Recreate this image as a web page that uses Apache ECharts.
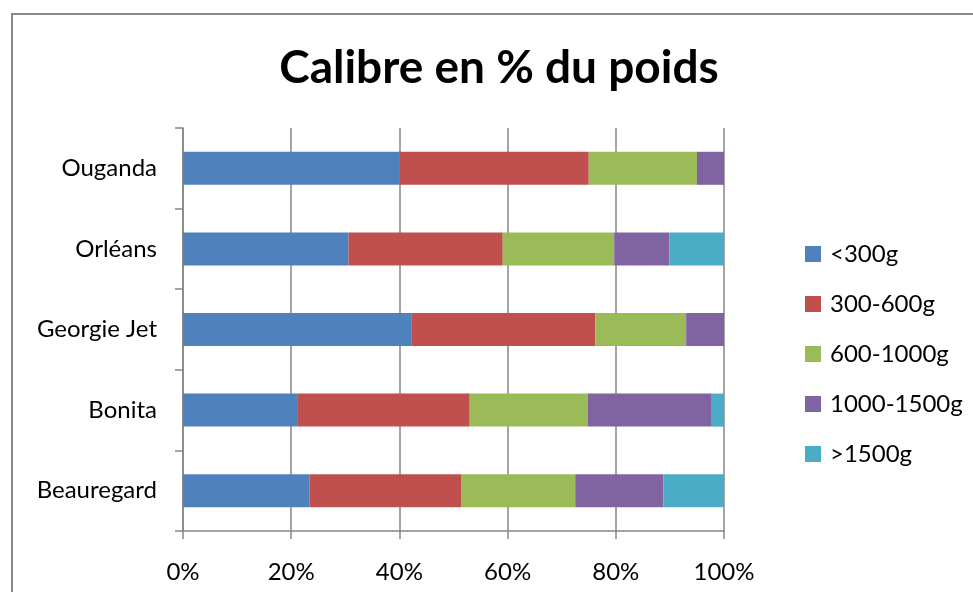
<!DOCTYPE html>
<html>
<head>
    <meta charset="utf-8">
    <title>Calibre en % du poids</title>
    <script src="https://cdn.jsdelivr.net/npm/echarts@6/dist/echarts.min.js"></script>
    <style>
        html, body { margin: 0; padding: 0; background: #fff; }
        #main { width: 973px; height: 592px; }
    </style>
</head>
<body>
<div id="main"></div>
<script>
    // varieties, bottom to top (ECharts puts the first category at the bottom)
    var varietes = ['Beauregard', 'Bonita', 'Georgie Jet', 'Orléans', 'Ouganda'];
    var calibres = ['<300g', '300-600g', '600-1000g', '1000-1500g', '>1500g'];
    var couleurs = ['#4F81BD', '#C0504D', '#9BBB59', '#8064A2', '#4BACC6'];

    // % du poids per size class, one value per variety
    var moins300 = [23.4, 21.1, 42.3, 30.6, 40.0];
    var de300a600 = [28.1, 31.9, 33.9, 28.5, 35.0];
    var de600a1000 = [21.0, 21.8, 16.8, 20.6, 20.0];
    var de1000a1500 = [16.3, 22.8, 7.0, 10.2, 5.0];
    var plus1500 = [11.2, 2.4, 0, 10.1, 0];

    var valeurs = [moins300, de300a600, de600a1000, de1000a1500, plus1500];
    var police = 'Lato, "DejaVu Sans", sans-serif';

    var myChart = echarts.init(document.getElementById('main'));

    var series = calibres.map(function (nom, i) {
        return {
            name: nom,
            type: 'bar',
            stack: 'total',
            barWidth: '41%',
            itemStyle: { color: couleurs[i] },
            data: valeurs[i]
        };
    });

    var option = {
        animation: false,
        backgroundColor: '#fff',
        color: couleurs,
        title: {
            text: 'Calibre en % du poids',
            left: 494,
            textAlign: 'center',
            top: 40,
            textStyle: { fontFamily: police, fontWeight: 'bold', fontSize: 46, color: '#000' }
        },
        graphic: [{
            type: 'rect',
            shape: { x: 12, y: 14, width: 1000, height: 1000 },
            style: { fill: 'none', stroke: '#888', lineWidth: 2 },
            silent: true
        }],
        legend: {
            orient: 'vertical',
            left: 800,
            top: 237,
            itemWidth: 16,
            itemHeight: 16,
            itemGap: 26,
            icon: 'rect',
            textStyle: { fontFamily: police, fontSize: 24, color: '#000', padding: [0, 0, 0, 4] },
            data: calibres
        },
        grid: { left: 183, right: 249, top: 128, bottom: 61 },
        xAxis: {
            type: 'value',
            min: 0,
            max: 100,
            interval: 20,
            axisLine: { show: true, lineStyle: { color: '#868686', width: 1.5 } },
            axisTick: { show: true, length: 8, lineStyle: { color: '#868686', width: 1.5 } },
            axisLabel: { formatter: '{value}%', fontFamily: police, fontSize: 24, color: '#000', margin: 29 },
            splitLine: { show: true, lineStyle: { color: '#868686', width: 1.5 } }
        },
        yAxis: {
            type: 'category',
            data: varietes,
            axisLine: { show: true, lineStyle: { color: '#868686', width: 1.5 } },
            axisTick: { show: true, length: 8, lineStyle: { color: '#868686', width: 1.5 } },
            axisLabel: { fontFamily: police, fontSize: 24, color: '#000', margin: 26 }
        },
        series: series
    };

    myChart.setOption(option);
</script>
</body>
</html>
